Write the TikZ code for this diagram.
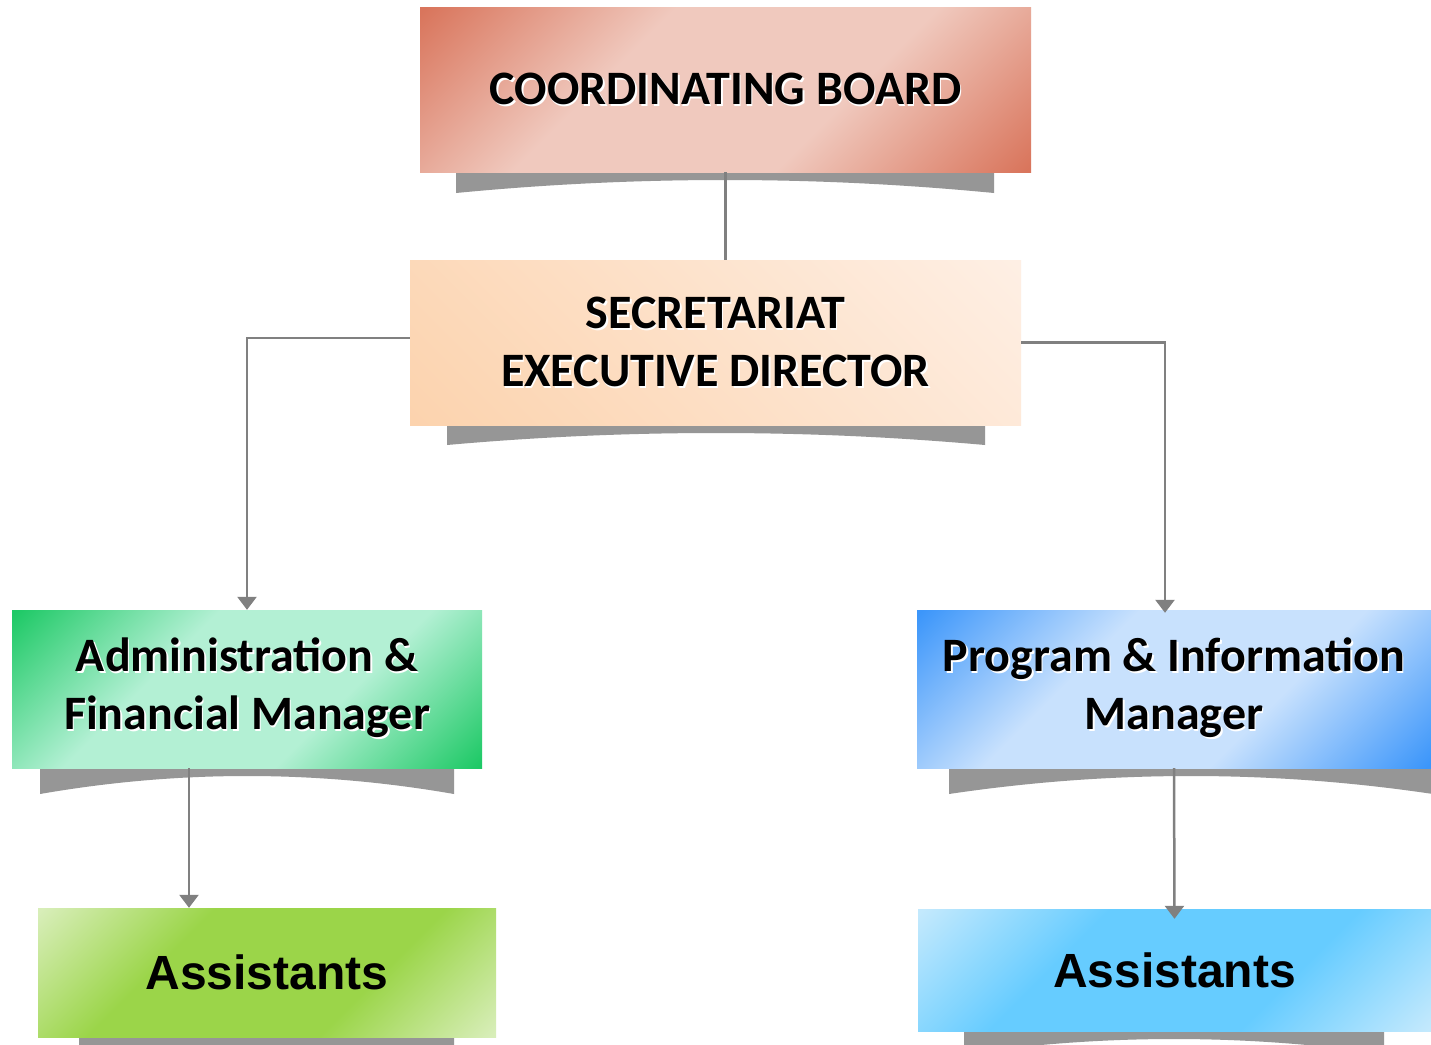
\documentclass[tikz,border=0pt]{standalone}
\usepackage{fontspec}
\setmainfont{Carlito}
\newfontfamily\arialfont{Liberation Sans}
\usepackage{tikz}
\usepackage{xcolor}
\usetikzlibrary{arrows.meta}
\usetikzlibrary{positioning}

\definecolor{boardDark}{RGB}{217,117,92}
\definecolor{boardLight}{RGB}{240,201,190}
\definecolor{secDark}{RGB}{252,211,174}
\definecolor{secLight}{RGB}{254,239,228}
\definecolor{adminDark}{RGB}{30,201,102}
\definecolor{adminLight}{RGB}{179,240,212}
\definecolor{progDark}{RGB}{60,150,250}
\definecolor{progLight}{RGB}{200,225,253}
\definecolor{asstGreen}{RGB}{155,213,73}
\definecolor{asstGreenLight}{RGB}{216,238,185}
\definecolor{asstBlue}{RGB}{102,204,255}
\definecolor{asstBlueLight}{RGB}{195,233,253}
\definecolor{shadowgray}{RGB}{150,150,150}
\definecolor{linkgray}{RGB}{128,128,128}

\pgfdeclarehorizontalshading{boardShade}{100bp}{color(0bp)=(boardDark); color(15bp)=(boardDark); color(38bp)=(boardLight); color(62bp)=(boardLight); color(85bp)=(boardDark); color(100bp)=(boardDark)}
\pgfdeclarehorizontalshading{secShade}{100bp}{color(0bp)=(secDark); color(15bp)=(secDark); color(85bp)=(secLight); color(100bp)=(secLight)}
\pgfdeclarehorizontalshading{adminShade}{100bp}{color(0bp)=(adminDark); color(15bp)=(adminDark); color(38bp)=(adminLight); color(62bp)=(adminLight); color(85bp)=(adminDark); color(100bp)=(adminDark)}
\pgfdeclarehorizontalshading{progShade}{100bp}{color(0bp)=(progDark); color(15bp)=(progDark); color(38bp)=(progLight); color(62bp)=(progLight); color(85bp)=(progDark); color(100bp)=(progDark)}
\pgfdeclarehorizontalshading{asstGreenShade}{100bp}{color(0bp)=(asstGreenLight); color(15bp)=(asstGreenLight); color(36bp)=(asstGreen); color(64bp)=(asstGreen); color(85bp)=(asstGreenLight); color(100bp)=(asstGreenLight)}
\pgfdeclarehorizontalshading{asstBlueShade}{100bp}{color(0bp)=(asstBlueLight); color(15bp)=(asstBlueLight); color(36bp)=(asstBlue); color(64bp)=(asstBlue); color(85bp)=(asstBlueLight); color(100bp)=(asstBlueLight)}

\newcommand{\glow}[1]{\leavevmode\rlap{\kern1.5pt\raisebox{-2pt}{\color{white}#1}}#1}

\begin{document}
\begin{tikzpicture}[x=1pt,y=-1pt,
	box/.style={shading=#1,shading angle=-45,inner sep=0pt,align=center,
		font=\bfseries\fontsize{48}{58}\selectfont},
	asst/.style={box=#1,font=\arialfont\bfseries\fontsize{48}{56}\selectfont},
	link/.style={draw=linkgray,line width=2.5pt},
	linkarrow/.style={link,-{Triangle[width=19pt,length=13pt]}}]
		\fill[white] (0,0) rectangle (1431,1044);
		\useasboundingbox (0,0) rectangle (1431,1044);
		\foreach \xa/\xb/\yt/\yb in {456/994/172/193,447/985/425/445,40/454/768/794,
			949/1433/768/794,79/454/1037/1060,964/1384/1031/1054}
		{
			\fill[shadowgray] (\xa,\yt) -- (\xb,\yt) -- (\xb,\yb)
				.. controls ({\xb-(\xb-\xa)/3},{(4*\yt+32-\yb)/3}) and ({\xa+(\xb-\xa)/3},{(4*\yt+32-\yb)/3}) .. (\xa,\yb) -- cycle;
		}
		\node[box=boardShade,minimum width=611,minimum height=165] (board) at (725.5,89.5)
			{\glow{COORDINATING BOARD}};
		\node[box=secShade,shading angle=45,minimum width=611,minimum height=165] (sec) at (715.5,342.5)
			{\glow{SECRETARIAT}\\\glow{EXECUTIVE DIRECTOR}};
		\node[box=adminShade,minimum width=470,minimum height=158] (admin) at (247,689)
			{\glow{Administration \&}\\\glow{Financial Manager}};
		\node[box=progShade,minimum width=514,minimum height=158] (prog) at (1174,689)
			{\glow{Program \& Information}\\\glow{Manager}};
		\node[asst=asstGreenShade,minimum width=458,minimum height=129] (asstL) at (267,972.5)
			{Assistants};
		\node[asst=asstBlueShade,minimum width=513,minimum height=122] (asstR) at (1174.5,970)
			{Assistants};
		\draw[link] (board.south) -- (board.south |- sec.north);
		\draw[linkarrow] ([yshift=4.5pt]sec.west) -| (admin.north);
		\draw[linkarrow] (sec.east) -| ([xshift=-9pt,yshift=-3pt]prog.north);
		\draw[linkarrow] ([xshift=-58pt]admin.south) -- ([xshift=-58pt]admin.south |- asstL.north);
		\draw[linkarrow] (prog.south) -- ([yshift=-10pt]asstR.north);
	\end{tikzpicture}
\end{document}
